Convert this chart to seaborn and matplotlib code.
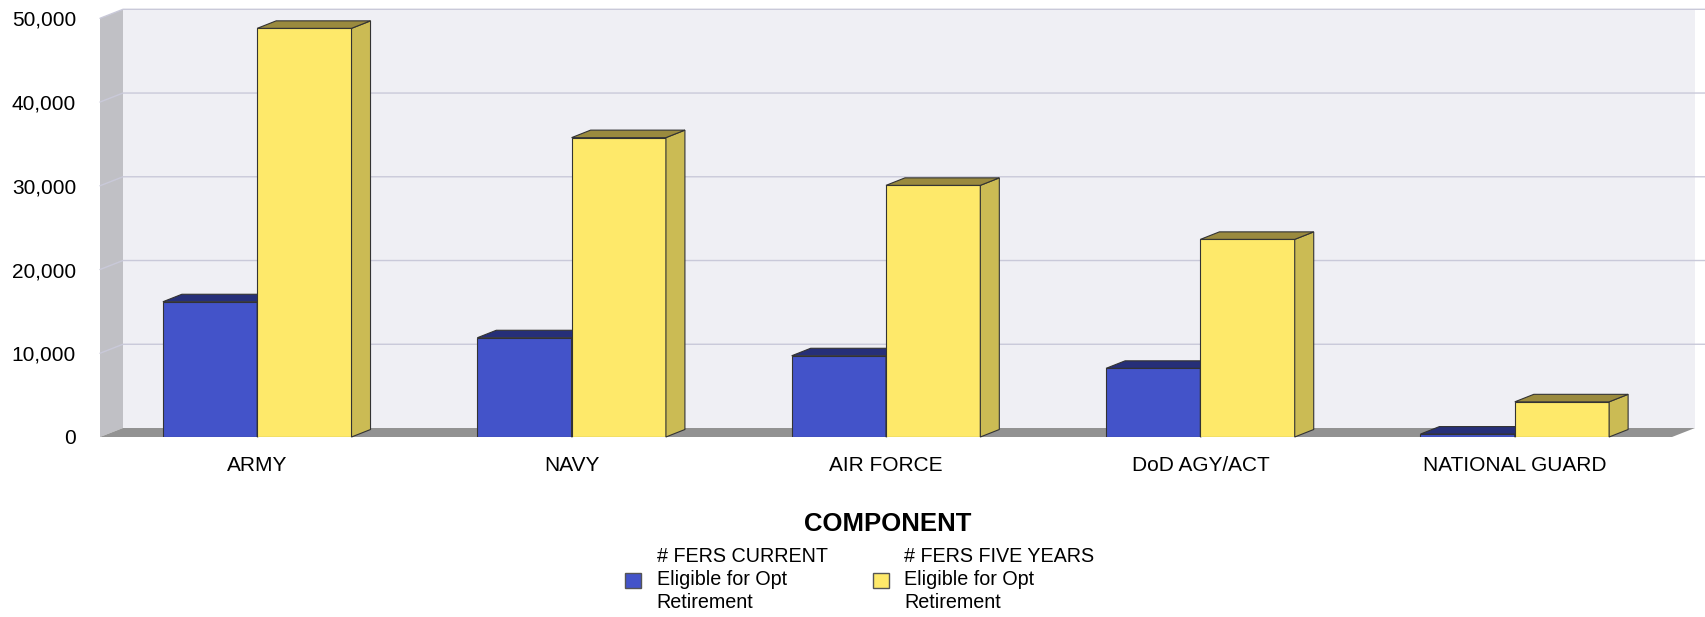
#!/usr/bin/env python3
"""
FERS optional retirement eligibility by component, drawn as a pseudo-3D
grouped bar chart (front faces from seaborn, tops/sides added on top).
"""

import matplotlib
matplotlib.use('Agg')
import pandas as pd
import matplotlib.pyplot as plt
import seaborn as sns
from matplotlib.patches import Polygon, Patch

# Data
components = ['ARMY', 'NAVY', 'AIR FORCE', 'DoD AGY/ACT', 'NATIONAL GUARD']
fers_current = [16150, 11850, 9700, 8200, 350]
fers_five_years = [48800, 35750, 30050, 23600, 4200]
series_labels = ['# FERS CURRENT\nEligible for Opt\nRetirement',
                 '# FERS FIVE YEARS\nEligible for Opt\nRetirement']
y_ticks = [0, 10000, 20000, 30000, 40000, 50000]
x_title = 'COMPONENT'

# Colours
BLUE, BLUE_TOP, BLUE_SIDE = '#4353c9', '#262f78', '#2f3a99'
YELLOW, YELLOW_TOP, YELLOW_SIDE = '#fee96a', '#9a8a3e', '#cbbb54'
WALL, SIDE_WALL, FLOOR, GRID = '#efeff4', '#c0c0c5', '#929292', '#c9c9d9'
EDGE = '#333333'

# Canvas geometry (pixels)
W, H, DPI = 1706, 617, 100
AX_L, AX_R, AX_TOP, AX_BOT = 100, 1672, 18.3, 437
WALL_DX, WALL_DY = 23, 9      # depth of walls / floor
BAR_DX, BAR_DY = 19, 7.5      # depth of the bars

sns.set_style('white')
plt.rcParams['font.family'] = ['Liberation Sans', 'DejaVu Sans']
plt.rcParams['text.color'] = 'black'
plt.rcParams['axes.labelcolor'] = 'black'

fig = plt.figure(figsize=(W / DPI, H / DPI), dpi=DPI)
ax = fig.add_axes([AX_L / W, 1 - AX_BOT / H, (AX_R - AX_L) / W, (AX_BOT - AX_TOP) / H])
ax.patch.set_visible(False)

df = pd.DataFrame({
    'component': components * 2,
    'series': [series_labels[0]] * len(components) + [series_labels[1]] * len(components),
    'value': fers_current + fers_five_years,
})

sns.barplot(data=df, x='component', y='value', hue='series',
            palette=[BLUE, YELLOW], saturation=1, width=0.6,
            edgecolor=EDGE, linewidth=0.8, legend=False, ax=ax)

n = len(components)
y_max = y_ticks[-1]
ax.set_xlim(-0.5, n - 0.5)
ax.set_ylim(0, y_max)

# pixel -> data unit factors
ux = n / (AX_R - AX_L)
uy = y_max / (AX_BOT - AX_TOP)
wdx, wdy = WALL_DX * ux, WALL_DY * uy
bdx, bdy = BAR_DX * ux, BAR_DY * uy
x0, x1 = -0.5, n - 0.5

# back wall, side wall, floor
ax.add_patch(Polygon([(x0 + wdx, wdy), (x1 + wdx, wdy), (x1 + wdx, y_max + wdy), (x0 + wdx, y_max + wdy)],
                     closed=True, facecolor=WALL, edgecolor='none', zorder=0.1, clip_on=False))
ax.add_patch(Polygon([(x0, 0), (x0 + wdx, wdy), (x0 + wdx, y_max + wdy), (x0, y_max)],
                     closed=True, facecolor=SIDE_WALL, edgecolor='none', zorder=0.2, clip_on=False))
ax.add_patch(Polygon([(x0, 0), (x1, 0), (x1 + wdx, wdy), (x0 + wdx, wdy)],
                     closed=True, facecolor=FLOOR, edgecolor='none', zorder=0.3, clip_on=False))

# gridlines: along side wall then across the back wall to the right edge
x_edge = x0 + (W - AX_L) * ux
for v in y_ticks[1:]:
    ax.plot([x0, x0 + wdx, x_edge], [v, v + wdy, v + wdy], color=GRID, lw=1,
            zorder=0.5, clip_on=False)

# 3D tops and sides for every bar
for p in ax.patches[:]:
    if not isinstance(p, matplotlib.patches.Rectangle):
        continue
    fc = matplotlib.colors.to_hex(p.get_facecolor())
    if fc == BLUE:
        top_c, side_c, z = BLUE_TOP, BLUE_SIDE, 2
    elif fc == YELLOW:
        top_c, side_c, z = YELLOW_TOP, YELLOW_SIDE, 3
    else:
        continue
    bx, bw, bh = p.get_x(), p.get_width(), p.get_height()
    p.set_zorder(z)
    ax.add_patch(Polygon([(bx + bw, 0), (bx + bw + bdx, bdy), (bx + bw + bdx, bh + bdy), (bx + bw, bh)],
                         closed=True, facecolor=side_c, edgecolor=EDGE, lw=0.8, zorder=z + 0.1, clip_on=False))
    ax.add_patch(Polygon([(bx, bh), (bx + bw, bh), (bx + bw + bdx, bh + bdy), (bx + bdx, bh + bdy)],
                         closed=True, facecolor=top_c, edgecolor=EDGE, lw=0.8, zorder=z + 0.1, clip_on=False))

# axes cosmetics
sns.despine(ax=ax, left=True, bottom=True)
ax.set_yticks(y_ticks)
ax.set_yticklabels([f'{v:,}' for v in y_ticks])
ax.tick_params(axis='y', length=12.2, width=1, color=GRID, pad=5, labelsize=15, labelcolor='black')
ax.tick_params(axis='x', length=0, pad=14, labelsize=15, labelcolor='black')
ax.set_xlabel('')
ax.set_ylabel('')

fig.text(888 / W, 1 - 530.7 / H, x_title, ha='center', va='baseline',
         fontsize=18.5, fontweight='bold', color='black')

handles = [Patch(facecolor=BLUE, edgecolor='#555555'), Patch(facecolor=YELLOW, edgecolor='#555555')]
leg = fig.legend(handles, series_labels, loc='upper left', bbox_to_anchor=(625 / W, 1 - 547 / H),
                 ncol=2, frameon=False, fontsize=14.2, handlelength=0.8, handleheight=0.8,
                 handletextpad=0.8, columnspacing=2.3, borderpad=0, borderaxespad=0)
for t in leg.get_texts():
    t.set_linespacing(1.28)
    t.set_color('black')

fig.savefig('out.png', dpi=DPI)
